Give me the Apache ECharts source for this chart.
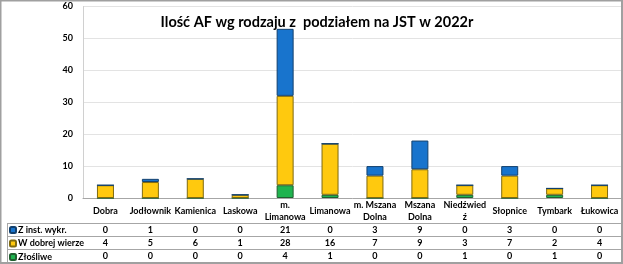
<!DOCTYPE html>
<html>
<head>
    <meta charset="utf-8">
    <title>ECharts</title>
    <script src="https://cdn.jsdelivr.net/npm/echarts@6/dist/echarts.min.js"></script>
    <style type="text/css">
        html, body { margin: 0; padding: 0; background: #fff; }
        #main { width: 623px; height: 264px; }
    </style>
</head>
<body>
<div id="main"></div>
<script type="text/javascript">
    // dane z wykresu
    var categories = ['Dobra', 'Jodłownik', 'Kamienica', 'Laskowa', 'm.\nLimanowa', 'Limanowa',
        'm. Mszana\nDolna', 'Mszana\nDolna', 'Niedźwied\nź', 'Słopnice', 'Tymbark', 'Łukowica'];
    var zInst = [0, 1, 0, 0, 21, 0, 3, 9, 0, 3, 0, 0];
    var wDobrej = [4, 5, 6, 1, 28, 16, 7, 9, 3, 7, 2, 4];
    var zlosliwe = [0, 0, 0, 0, 4, 1, 0, 0, 1, 0, 1, 0];
    var yTicks = [0, 10, 20, 30, 40, 50, 60];

    var font = 'Lato';
    var lineCol = '#a6a6a6';

    function rowAxis(values, offset) {
        return {
            type: 'category',
            data: categories,
            position: 'bottom',
            offset: offset,
            axisLine: {show: false},
            axisTick: {show: false},
            axisLabel: {
                interval: 0,
                margin: 0,
                verticalAlign: 'middle',
                fontFamily: font,
                fontWeight: 'bold',
                fontSize: 9,
                color: '#000',
                formatter: function (v, i) { return String(values[i]); }
            }
        };
    }

    var chart = echarts.init(document.getElementById('main'));
    chart.setOption({
        animation: false,
        title: {
            text: 'Ilość AF wg rodzaju z  podziałem na JST w 2022r',
            left: 312,
            textAlign: 'center',
            top: 10,
            textStyle: {fontFamily: font, fontWeight: 'bold', fontSize: 14.5, color: '#000'}
        },
        legend: {
            orient: 'vertical',
            left: 9,
            top: 224.5,
            padding: 0,
            itemWidth: 6,
            itemHeight: 6,
            itemGap: 2.5,
            data: ['Z inst. wykr.', 'W dobrej wierze', 'Złośliwe'],
            textStyle: {fontFamily: font, fontWeight: 'bold', fontSize: 9, lineHeight: 11, color: '#000', padding: [0, 0, 0, -3]}
        },
        grid: {left: 83, right: 1, top: 6.5, bottom: 66, containLabel: false},
        xAxis: [
            {
                type: 'category',
                data: categories,
                axisLine: {lineStyle: {color: lineCol}},
                axisTick: {length: 65, lineStyle: {color: lineCol}},
                axisLabel: {
                    interval: 0,
                    margin: 13,
                    verticalAlign: 'middle',
                    lineHeight: 12,
                    fontFamily: font,
                    fontWeight: 'bold',
                    fontSize: 9,
                    color: '#000'
                }
            },
            rowAxis(zInst, 32),
            rowAxis(wDobrej, 45),
            rowAxis(zlosliwe, 58)
        ],
        yAxis: {
            type: 'value',
            min: yTicks[0],
            max: yTicks[yTicks.length - 1],
            interval: 10,
            axisLine: {show: true, lineStyle: {color: '#d0d0d0'}},
            axisTick: {show: false},
            splitLine: {lineStyle: {color: '#e3e3e3'}},
            axisLabel: {margin: 10, fontFamily: font, fontWeight: 'bold', fontSize: 9, color: '#000'}
        },
        series: [
            {
                name: 'Złośliwe', type: 'bar', stack: 'af', data: zlosliwe, barWidth: 17,
                itemStyle: {color: '#1fb34f', borderColor: '#1f5f2f', borderWidth: 1}
            },
            {
                name: 'W dobrej wierze', type: 'bar', stack: 'af', data: wDobrej, barWidth: 17,
                itemStyle: {color: '#ffc90e', borderColor: '#7f6a10', borderWidth: 1}
            },
            {
                name: 'Z inst. wykr.', type: 'bar', stack: 'af', data: zInst, barWidth: 17,
                itemStyle: {color: '#1874cd', borderColor: '#12406e', borderWidth: 1}
            }
        ],
        graphic: [
            {type: 'line', shape: {x1: 8, y1: 223.5, x2: 622, y2: 223.5}, style: {stroke: lineCol, lineWidth: 1}},
            {type: 'line', shape: {x1: 8, y1: 236.5, x2: 622, y2: 236.5}, style: {stroke: lineCol, lineWidth: 1}},
            {type: 'line', shape: {x1: 8, y1: 249.5, x2: 622, y2: 249.5}, style: {stroke: lineCol, lineWidth: 1}},
            {type: 'line', shape: {x1: 7.5, y1: 223, x2: 7.5, y2: 263}, style: {stroke: lineCol, lineWidth: 1}},
            {type: 'rect', shape: {x: 0.5, y: 0.5, width: 621.5, height: 262.5}, style: {fill: null, stroke: '#a0a0a0', lineWidth: 2}, z: 100}
        ]
    });
</script>
</body>
</html>
